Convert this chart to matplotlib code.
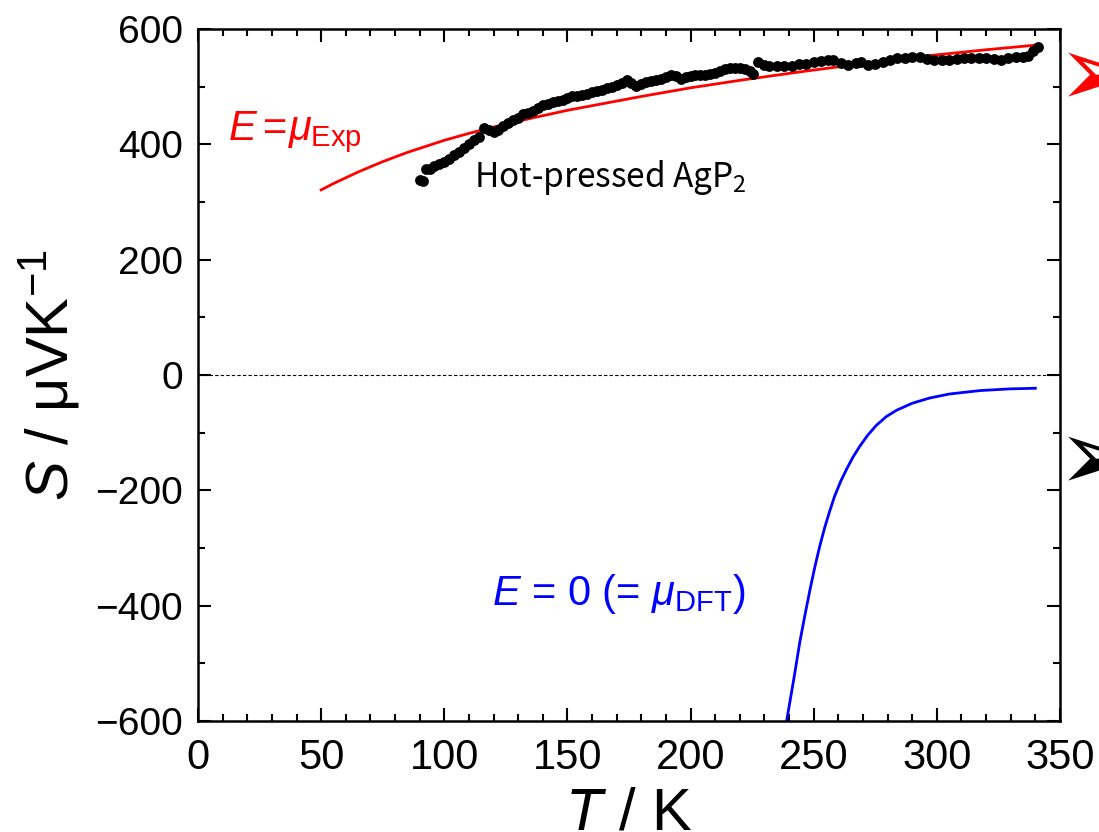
import numpy as np
import matplotlib.pyplot as plt
from matplotlib.ticker import MultipleLocator

plt.rcParams['font.family'] = ['Liberation Sans', 'DejaVu Sans']
plt.rcParams['mathtext.fontset'] = 'custom'
plt.rcParams['mathtext.rm'] = 'Liberation Sans'
plt.rcParams['mathtext.it'] = 'Liberation Sans:italic'
plt.rcParams['mathtext.bf'] = 'Liberation Sans:bold'

# measured Seebeck coefficient, hot-pressed AgP2 (T in K, S in uV/K)
exp_T = [90, 91.5, 92.5, 94, 96, 98, 100, 102, 104, 106, 108, 110, 112, 114, 116, 118,
         120, 122, 124, 126, 128, 130, 132, 134, 136, 138, 140, 142, 144, 146, 148, 150,
         152, 154, 156, 158, 160, 162, 164, 166, 168, 170, 172, 174, 176, 178, 180, 182,
         184, 186, 188, 190, 192, 194, 196, 198, 200, 202, 204, 206, 208, 210, 212, 214,
         216, 218, 220, 222, 224, 225.5, 227.5, 230, 232, 235, 238, 241, 244, 247, 250,
         253, 256, 258, 261, 264, 267, 269, 272, 275, 278, 281, 284, 287, 290, 293, 296,
         299, 302, 305, 308, 311, 314, 317, 320, 323, 326, 329, 332, 335, 337, 339, 341]
exp_S = [339, 337, 358, 357, 362, 366, 370, 375, 381, 387, 394, 400, 407, 412, 428, 425,
         421, 424, 431, 437, 442, 446, 452, 455, 457, 463, 468, 470, 474, 475, 477, 480,
         483, 484, 486, 488, 490, 493, 495, 497, 500, 503, 506, 512, 507, 501, 505, 508,
         509, 511, 514, 516, 520, 519, 514, 516, 518, 520, 520, 521, 522, 523, 527, 531,
         532, 532, 532, 531, 528, 522, 543, 537, 535, 535, 535, 536, 539, 540, 543,
         544, 546, 547, 541, 538, 541, 543, 537, 540, 543, 546, 549, 550, 552, 551, 548,
         547, 547, 547, 548, 549, 549, 549, 549, 548, 547, 549, 552, 551, 553, 561, 569]

# calculated, E = mu_Exp
red_T = [50, 55, 60, 65, 70, 75, 80, 85, 90, 95, 100, 110, 120, 135, 150, 165, 180, 200,
         220, 245, 270, 295, 320, 340]
red_S = [321, 332, 342, 352, 361, 370, 378, 386, 393, 400, 407, 419, 430, 445, 459, 471,
         483, 498, 511, 526, 540, 553, 564, 572]

# calculated, E = 0 (= mu_DFT)
blue_T = [239, 242, 244.4, 246.5, 248.5, 250.5, 252.5, 254.5, 256.5, 258.5, 261, 263.5,
          266, 268.8, 272, 275.5, 279.5, 283.7, 290, 297, 305, 317.5, 330, 340]
blue_S = [-600, -525, -462, -415, -372, -332, -296, -264, -236, -210, -184, -162, -142,
          -123, -104, -87, -72, -61, -49, -40, -33, -27, -24, -23]

fig = plt.figure(figsize=(10.99, 8.32), dpi=100)
ax = fig.add_axes([198 / 1099, 1 - 721 / 832, 862 / 1099, 692 / 832])

ax.axhline(0, color='black', lw=0.8, ls=(0, (3, 2)), zorder=1)
ax.plot(red_T, red_S, color='#ff0000', lw=2.0, zorder=2)
ax.plot(blue_T, blue_S, color='#0000ff', lw=2.0, zorder=2)
ax.plot(exp_T, exp_S, 'o', color='black', ms=7.8, mew=0, zorder=3)

ax.set_xlim(0, 350)
ax.set_ylim(-600, 600)
ax.xaxis.set_major_locator(MultipleLocator(50))
ax.xaxis.set_minor_locator(MultipleLocator(10))
ax.yaxis.set_major_locator(MultipleLocator(200))
ax.yaxis.set_minor_locator(MultipleLocator(100))
ax.tick_params(which='both', direction='in', top=True, right=True, width=1.5)
ax.tick_params(which='major', length=9.5)
ax.tick_params(which='minor', length=5)
ax.tick_params(axis='x', labelsize=30, pad=12)
ax.tick_params(axis='y', labelsize=28, pad=11)
for sp in ax.spines.values():
    sp.set_linewidth(1.8)

ax.set_xticks(ax.get_xticks())
ax.set_xticklabels([f'{int(v)}' for v in ax.get_xticks()])
ax.set_yticks(ax.get_yticks())
ax.set_yticklabels([f'{int(v)}'.replace('-', '\u2212') for v in ax.get_yticks()])
ax.set_xlim(0, 350)
ax.set_ylim(-600, 600)

ax.set_xlabel(r'$T$ / K', fontsize=43)
ax.xaxis.set_label_coords(0.5, -0.095)
ax.set_ylabel(r'$S$ / μVK$^{\mathregular{-1}}$', fontsize=43)
ax.yaxis.set_label_coords(-0.135, 0.5)

ax.text(12.2, 407, r'$E\ \!\!=\!\mu_{\mathrm{Exp}}$', color='#ff0000', fontsize=30)
ax.text(119.5, -399, r'$E$ = 0 (= $\mu_{\mathrm{DFT}}$)', color='#0000ff', fontsize=30)
ax.text(112, 326, r'Hot-pressed AgP$_{\mathregular{2}}$', fontsize=24,
        family=['Noto Sans CJK JP', 'DejaVu Sans'])

# arrowheads cut off at the right edge
fig.text(1057 / 1099, 1 - 78 / 832, '\u27a2', color='#ff0000', fontsize=72,
         ha='left', va='center', family=['DejaVu Sans'])
fig.text(1057 / 1099, 1 - 462 / 832, '\u27a2', color='black', fontsize=72,
         ha='left', va='center', family=['DejaVu Sans'])

fig.savefig('out.png', dpi=100)
